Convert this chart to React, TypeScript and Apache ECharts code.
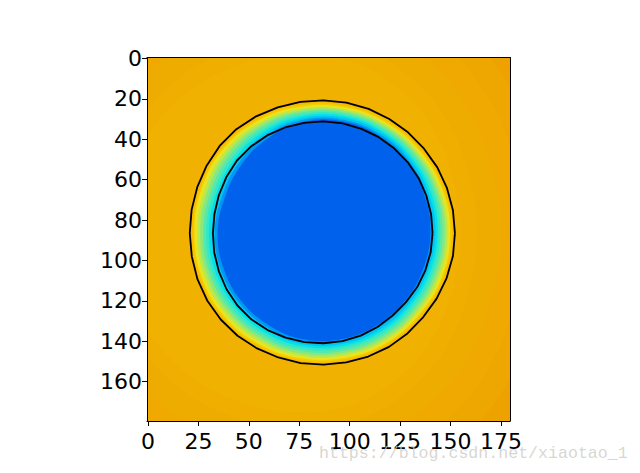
import React, { useEffect, useRef } from "react";
import * as echarts from "echarts";

const xTicks = [0, 25, 50, 75, 100, 125, 150, 175];
const yTicks = [0, 20, 40, 60, 80, 100, 120, 140, 160];
const center = [87, 86.5];
const watermark = "https://blog.csdn.net/xiaotao_1";

// contour radii, one per 10 degrees (0 = right, clockwise on screen)
const outerContour = [65.2, 65.2, 65.0, 64.8, 64.6, 64.8, 65, 65, 65, 65.1, 65.3, 65.5, 65.9, 66.3, 66.5, 66.6, 66.5, 66.3, 66.3, 66.4, 66.6, 66.9, 67.2, 67.2, 66.8, 66.3, 66, 65.8, 65.6, 65.5, 65.3, 65.2, 65.1, 65.2, 65.2, 65.2];
const innerContour = [54.1, 54, 53.8, 53.6, 53.3, 53.3, 53.6, 54, 54.3, 54.5, 54.8, 55, 55.4, 55.7, 55.7, 55.5, 55.2, 55, 54.8, 54.9, 55.2, 55.6, 56, 56, 55.9, 55.7, 55.5, 55.4, 55.2, 55, 54.9, 54.7, 54.6, 54.5, 54.3, 54.2];

// colour level edges, one radius per 20 degrees
const bgEdge1 = [112, 113, 118, 124, 130, 134, 138, 142, 144, 145, 144, 142, 138, 134, 130, 124, 118, 113];
const bgEdge2 = [100, 101, 106, 112, 118, 122, 126, 130, 132, 133, 132, 130, 126, 122, 118, 112, 106, 101];
const bgEdge3 = [88, 89, 94, 100, 106, 110, 114, 118, 120, 121, 120, 118, 114, 110, 106, 100, 94, 89];
const bgEdge4 = [76, 77, 82, 88, 94, 98, 102, 106, 108, 109, 108, 106, 102, 98, 94, 88, 82, 77];
const bgEdge5 = [68, 69, 74, 80, 86, 90, 94, 98, 100, 101, 100, 98, 94, 90, 86, 80, 74, 69];
const edge1 = [64.4, 64.2, 63.8, 64.2, 64.2, 64.5, 65.1, 65.7, 65.7, 65.5, 65.8, 66.4, 66, 65.2, 64.8, 64.5, 64.3, 64.4];
const edge2 = [63.6, 63.4, 63, 63.4, 63.4, 63.7, 64.3, 64.9, 64.9, 64.7, 65, 65.6, 65.2, 64.4, 64, 63.7, 63.5, 63.6];
const edge3 = [62.8, 62.6, 62.2, 62.6, 62.6, 62.9, 63.5, 64.1, 64.1, 63.9, 64.2, 64.8, 64.4, 63.6, 63.2, 62.9, 62.7, 62.8];
const edge4 = [61.6, 61.3, 61, 61.4, 61.4, 61.7, 62.2, 62.7, 62.7, 62.5, 62.7, 63.3, 63.2, 62.7, 62.3, 62, 61.7, 61.6];
const edge5 = [60.4, 60.1, 59.8, 60.2, 60.3, 60.6, 60.9, 61.3, 61.2, 61.1, 61.2, 61.9, 62, 61.7, 61.5, 61.1, 60.7, 60.5];
const edge6 = [59.1, 58.8, 58.6, 58.9, 59.1, 59.4, 59.6, 59.9, 59.8, 59.6, 59.6, 60.4, 60.8, 60.8, 60.6, 60.1, 59.6, 59.3];
const edge7 = [57.9, 57.6, 57.4, 57.7, 57.9, 58.2, 58.3, 58.5, 58.3, 58.2, 58.1, 58.9, 59.6, 59.8, 59.7, 59.2, 58.6, 58.2];
const edge8 = [56.7, 56.3, 56.1, 56.5, 56.7, 57, 57, 57, 56.9, 56.8, 56.6, 57.4, 58.4, 58.9, 58.9, 58.3, 57.6, 57];
const edge9 = [55.5, 55, 54.9, 55.3, 55.6, 55.9, 55.6, 55.6, 55.4, 55.4, 55.1, 55.9, 57.2, 57.9, 58, 57.4, 56.6, 55.8];
const edge10 = [54.2, 53.8, 53.7, 54, 54.4, 54.7, 54.3, 54.2, 54, 53.9, 53.5, 54.5, 56, 57, 57.1, 56.4, 55.5, 54.7];
const blueEdge = [53, 52.5, 52.5, 52.8, 53.2, 53.5, 53, 52.8, 52.5, 52.5, 52, 53, 54.5, 56, 56.2, 55.5, 54.5, 53.5];

const levelEdges = [bgEdge1, bgEdge2, bgEdge3, bgEdge4, bgEdge5, outerContour.filter((_, i) => i % 2 === 0), edge1, edge2, edge3, edge4, edge5, edge6, edge7, edge8, edge9, edge10, blueEdge];
const levelColors = ["#EEA600", "#EFA900", "#EFAC00", "#F0AF00", "#F0B100", "#F2B400", "#F5BC00", "#F6CC00", "#E8E420", "#B8E850", "#88E880", "#58E8A8", "#30E8CC", "#08E0E8", "#00C4F2", "#0096F4", "#0062EC"];
const baseColor = "#EDA200";
const lineColor = "#000000";

function ringPoints(radii: number[]): number[][] {
  const step = 360 / radii.length;
  return radii.map((r, i) => {
    const a = (i * step * Math.PI) / 180;
    return [center[0] + r * Math.cos(a), center[1] + r * Math.sin(a)];
  });
}

function closedRing(radii: number[]): number[][] {
  const pts = ringPoints(radii);
  return [...pts, pts[0]];
}

export default function App() {
  const ref = useRef<HTMLDivElement>(null);
  useEffect(() => {
    document.body.style.margin = "0";
    const chart = echarts.init(ref.current!, undefined, { renderer: "svg" });
    const tickLabel = { fontFamily: "DejaVu Sans", fontSize: 22, color: "#000" };
    const common = { type: "value" as const, min: -0.5, max: 179.5, splitLine: { show: false }, z: 10 };
    const line = { show: true, onZero: false, lineStyle: { color: "#000", width: 1 } };
    const frame = { ...common, axisLine: line, axisTick: { show: false }, axisLabel: { show: false } };
    chart.setOption({
      animation: false,
      backgroundColor: "#fff",
      grid: { left: 147, top: 57.5, width: 363, height: 363.5, show: true, backgroundColor: baseColor, borderWidth: 0 },
      xAxis: [
        {
          ...common,
          position: "bottom",
          axisLine: line,
          axisTick: { show: true, length: 5, inside: false, customValues: xTicks, lineStyle: { color: "#000", width: 1 } },
          axisLabel: { ...tickLabel, margin: 9, customValues: xTicks },
        },
        { ...frame, position: "top" },
      ],
      yAxis: [
        {
          ...common,
          inverse: true,
          position: "left",
          axisLine: line,
          axisTick: { show: true, length: 5, inside: false, customValues: yTicks, lineStyle: { color: "#000", width: 1 } },
          axisLabel: { ...tickLabel, margin: 5, customValues: yTicks },
        },
        { ...frame, inverse: true, position: "right" },
      ],
      series: [
        {
          type: "custom",
          clip: true,
          z: 2,
          silent: true,
          data: levelEdges.map(() => center),
          renderItem: (params: any, api: any) => ({
            type: "polygon",
            shape: {
              points: ringPoints(levelEdges[params.dataIndex]).map((p) => api.coord(p)),
              smooth: 0.4,
            },
            style: { fill: levelColors[params.dataIndex], stroke: null },
          }),
        },
        {
          type: "line",
          z: 5,
          silent: true,
          symbol: "none",
          data: closedRing(outerContour),
          lineStyle: { color: lineColor, width: 1.8 },
        },
        {
          type: "line",
          z: 5,
          silent: true,
          symbol: "none",
          data: closedRing(innerContour),
          lineStyle: { color: lineColor, width: 1.8 },
        },
      ],
      graphic: [
        {
          type: "text",
          x: 319,
          y: 445,
          z: 100,
          style: {
            text: watermark,
            fontFamily: "Liberation Mono",
            fontSize: 16.6,
            fill: "rgba(205,205,198,0.8)",
          },
        },
      ],
    });
    return () => chart.dispose();
  }, []);
  return <div ref={ref} style={{ width: 640, height: 473 }} />;
}
